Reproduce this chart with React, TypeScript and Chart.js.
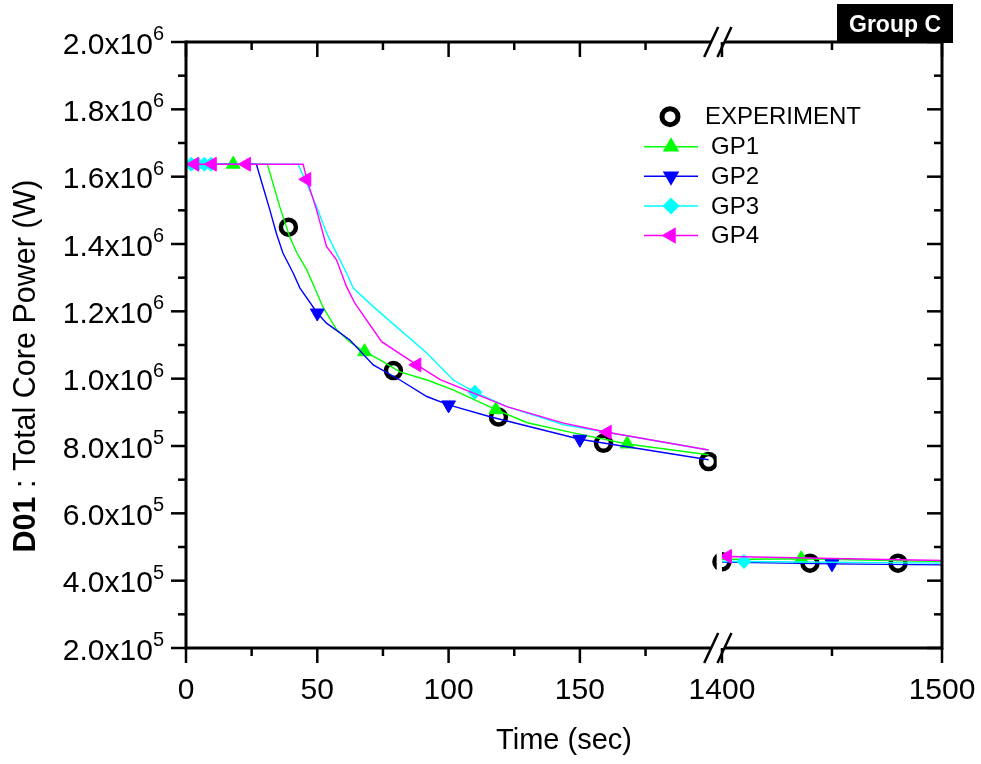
import React, { useEffect, useRef } from 'react';
import { Chart, registerables } from 'chart.js';

Chart.register(...registerables);

// ---------- data (time in s, power in W) ----------
const EXP_T = [39, 79, 119, 159, 199, 1400, 1440, 1480];
const EXP_P = [1.45e6, 1.024e6, 0.886e6, 0.808e6, 0.754e6, 4.56e5, 4.52e5, 4.52e5];

const GP1_T = [0, 18, 31, 35.7, 39.5, 42.2, 46, 49, 52.1, 57.4, 62.4, 68, 73.9, 81.5, 91.8, 101.7, 118, 130, 147.5, 168, 199];
const GP1_P = [1.637e6, 1.637e6, 1.637e6, 1.511e6, 1.421e6, 1.374e6, 1.323e6, 1.27e6, 1.213e6, 1.145e6, 1.109e6, 1.08e6, 1.056e6, 1.02e6, 0.996e6, 0.967e6, 0.908e6, 0.869e6, 0.839e6, 0.806e6, 0.774e6];
const GP1_RT = [1400, 1436, 1500];
const GP1_RP = [4.63e5, 4.65e5, 4.57e5];
const GP1_MARK = [18, 68, 118, 168, 1436];

const GP2_T = [0, 26.8, 29.3, 31.9, 34.4, 36.9, 40.8, 43.4, 50, 53.5, 62.4, 71.3, 81.5, 91.7, 100, 115.8, 150, 199];
const GP2_P = [1.637e6, 1.637e6, 1.571e6, 1.502e6, 1.432e6, 1.373e6, 1.314e6, 1.269e6, 1.195e6, 1.165e6, 1.115e6, 1.041e6, 0.996e6, 0.947e6, 0.922e6, 0.887e6, 0.82e6, 0.759e6];
const GP2_RT = [1400, 1450, 1500];
const GP2_RP = [4.55e5, 4.5e5, 4.47e5];
const GP2_MARK = [50, 100, 150, 1450];

const GP3_T = [0, 2, 4.5, 7, 9.5, 42.7, 45.9, 49.7, 53.5, 57.3, 61.1, 63.7, 71.3, 81.5, 91.7, 101.8, 110, 122.2, 143.8, 199];
const GP3_P = [1.637e6, 1.637e6, 1.637e6, 1.637e6, 1.637e6, 1.637e6, 1.581e6, 1.512e6, 1.433e6, 1.373e6, 1.314e6, 1.269e6, 1.214e6, 1.145e6, 1.076e6, 0.996e6, 0.96e6, 0.917e6, 0.863e6, 0.788e6];
const GP3_RT = [1400, 1410, 1500];
const GP3_RP = [4.57e5, 4.57e5, 4.52e5];
const GP3_MARK = [2, 4.5, 7, 9.5, 110, 1410];

const GP4_T = [0, 3.3, 10, 23, 44.6, 46, 49.7, 53.5, 57.3, 61.1, 64.3, 74.5, 87.9, 96.8, 109.5, 122.2, 143.8, 160.4, 199];
const GP4_P = [1.637e6, 1.637e6, 1.637e6, 1.637e6, 1.637e6, 1.592e6, 1.502e6, 1.393e6, 1.353e6, 1.274e6, 1.224e6, 1.11e6, 1.041e6, 0.997e6, 0.957e6, 0.917e6, 0.868e6, 0.841e6, 0.788e6];
const GP4_RT = [1400, 1402.5, 1500];
const GP4_RP = [4.72e5, 4.72e5, 4.6e5];
const GP4_MARK = [3.3, 10, 23, 46, 87.9, 160.4, 1402.5];

// ---------- ticks ----------
const X_MAJOR = [0, 50, 100, 150, 1400, 1500];
const X_LABELS = ['0', '50', '100', '150', '1400', '1500'];
const X_MINOR = [25, 75, 125, 175, 1450];
const Y_MAJOR = [2e5, 4e5, 6e5, 8e5, 1.0e6, 1.2e6, 1.4e6, 1.6e6, 1.8e6, 2.0e6];
const Y_MINOR = [3e5, 5e5, 7e5, 9e5, 1.1e6, 1.3e6, 1.5e6, 1.7e6, 1.9e6];

// ---------- broken-axis mapping ----------
const LEFT_END = 200;
const RIGHT_START = 1400;
const U_RIGHT0 = 204.1;
const U_RIGHT_SCALE = 0.838;
const U_MAX = U_RIGHT0 + 100 * U_RIGHT_SCALE;
const GAP_CLIP_U = 202.1;
const toU = (t: number) => (t <= 1000 ? t : U_RIGHT0 + (t - RIGHT_START) * U_RIGHT_SCALE);

const FONT = '"Liberation Sans", Arial, Helvetica, sans-serif';

const SERIES = [
  { label: 'GP1', color: '#00ff00', style: 'up', t: GP1_T, p: GP1_P, rt: GP1_RT, rp: GP1_RP, mark: GP1_MARK },
  { label: 'GP2', color: '#0000ff', style: 'down', t: GP2_T, p: GP2_P, rt: GP2_RT, rp: GP2_RP, mark: GP2_MARK },
  { label: 'GP3', color: '#00ffff', style: 'diamond', t: GP3_T, p: GP3_P, rt: GP3_RT, rp: GP3_RP, mark: GP3_MARK },
  { label: 'GP4', color: '#ff00ff', style: 'left', t: GP4_T, p: GP4_P, rt: GP4_RT, rp: GP4_RP, mark: GP4_MARK },
];

function buildLine(t: number[], p: number[], rt: number[], rp: number[]) {
  const pts: any[] = t.map((tt, i) => ({ x: toU(tt), y: p[i], t: tt }));
  pts.push({ x: (toU(LEFT_END) + toU(RIGHT_START)) / 2, y: null, t: NaN });
  rt.forEach((tt, i) => pts.push({ x: toU(tt), y: rp[i], t: tt }));
  return pts;
}

function seg(ctx: CanvasRenderingContext2D, x1: number, y1: number, x2: number, y2: number) {
  ctx.beginPath();
  ctx.moveTo(x1, y1);
  ctx.lineTo(x2, y2);
  ctx.stroke();
}

function drawMarker(ctx: CanvasRenderingContext2D, style: string, x: number, y: number, r: number, color: string) {
  ctx.save();
  ctx.fillStyle = color;
  ctx.beginPath();
  if (style === 'diamond') {
    ctx.moveTo(x, y - r);
    ctx.lineTo(x + r, y);
    ctx.lineTo(x, y + r);
    ctx.lineTo(x - r, y);
  } else {
    const rot = style === 'up' ? 0 : style === 'down' ? Math.PI : -Math.PI / 2;
    for (let k = 0; k < 3; k++) {
      const ang = rot + (k * 2 * Math.PI) / 3;
      const px = x + Math.sin(ang) * r;
      const py = y - Math.cos(ang) * r;
      if (k === 0) ctx.moveTo(px, py);
      else ctx.lineTo(px, py);
    }
  }
  ctx.closePath();
  ctx.fill();
  ctx.restore();
}

const brokenAxisPlugin = {
  id: 'brokenAxis',
  beforeDatasetsDraw(chart: any) {
    const { ctx, chartArea: a, scales } = chart;
    const g0 = scales.x.getPixelForValue(GAP_CLIP_U);
    const g1 = scales.x.getPixelForValue(U_RIGHT0);
    ctx.save();
    ctx.beginPath();
    ctx.rect(a.left - 30, a.top - 30, g0 - a.left + 30, a.bottom - a.top + 60);
    ctx.rect(g1, a.top - 30, a.right - g1 + 30, a.bottom - a.top + 60);
    ctx.clip();
  },
  afterDatasetsDraw(chart: any) {
    chart.ctx.restore();
  },
  afterDraw(chart: any) {
    const { ctx, chartArea: a, scales } = chart;
    const X = (t: number) => scales.x.getPixelForValue(toU(t));
    const Y = (v: number) => scales.y.getPixelForValue(v);
    const L = a.left, R = a.right, T = a.top, B = a.bottom;
    const b1 = X(LEFT_END);
    const b2 = X(RIGHT_START) + 2.5;
    ctx.save();
    ctx.strokeStyle = '#000';
    ctx.fillStyle = '#000';
    ctx.lineCap = 'butt';
    // frame
    ctx.lineWidth = 3;
    seg(ctx, L, T - 1.5, L, B + 1.5);
    seg(ctx, R, T - 1.5, R, B + 1.5);
    seg(ctx, L, B, b1, B);
    seg(ctx, b2, B, R, B);
    seg(ctx, L, T, b1, T);
    seg(ctx, b2, T, R, T);
    // break marks
    ctx.lineWidth = 2.5;
    for (const yy of [T, B]) for (const xc of [b1, b2]) seg(ctx, xc - 7, yy + 15, xc + 7, yy - 15);
    // ticks
    X_MAJOR.forEach((t) => {
      const px = X(t);
      seg(ctx, px, B, px, B + 15);
      seg(ctx, px, T, px, T + 15);
    });
    X_MINOR.forEach((t) => {
      const px = X(t);
      seg(ctx, px, B, px, B + 8);
      seg(ctx, px, T, px, T + 8);
    });
    Y_MAJOR.forEach((v) => {
      const py = Y(v);
      seg(ctx, L - 15, py, L, py);
      seg(ctx, R - 15, py, R, py);
    });
    Y_MINOR.forEach((v) => {
      const py = Y(v);
      seg(ctx, L - 8, py, L, py);
      seg(ctx, R - 8, py, R, py);
    });
    // x tick labels
    ctx.font = `30px ${FONT}`;
    ctx.textAlign = 'center';
    ctx.textBaseline = 'alphabetic';
    X_MAJOR.forEach((t, i) => ctx.fillText(X_LABELS[i], X(t), B + 51));
    // y tick labels with superscript
    Y_MAJOR.forEach((v) => {
      const e = Math.floor(Math.log10(v) + 1e-9);
      const base = (v / Math.pow(10, e)).toFixed(1) + 'x10';
      const sup = String(e);
      const py = Y(v);
      ctx.font = `30px ${FONT}`;
      const wb = ctx.measureText(base).width;
      ctx.font = `20px ${FONT}`;
      const ws = ctx.measureText(sup).width;
      const right = 164;
      ctx.textAlign = 'left';
      ctx.font = `30px ${FONT}`;
      ctx.fillText(base, right - ws - wb, py + 11.5);
      ctx.font = `20px ${FONT}`;
      ctx.fillText(sup, right - ws, py - 2);
    });
    // x title
    ctx.font = `29px ${FONT}`;
    ctx.textAlign = 'center';
    ctx.fillText('Time (sec)', (L + R) / 2, 749);
    // y title (rotated, mixed bold)
    ctx.save();
    ctx.translate(35, 366);
    ctx.rotate(-Math.PI / 2);
    const p1 = 'D01';
    const p2 = ' : Total Core Power (W)';
    ctx.font = `bold 30.5px ${FONT}`;
    const w1 = ctx.measureText(p1).width;
    ctx.font = `30.5px ${FONT}`;
    const w2 = ctx.measureText(p2).width;
    ctx.textAlign = 'left';
    ctx.font = `bold 30.5px ${FONT}`;
    ctx.fillText(p1, -(w1 + w2) / 2, 0);
    ctx.font = `30.5px ${FONT}`;
    ctx.fillText(p2, -(w1 + w2) / 2 + w1, 0);
    ctx.restore();
    // legend
    ctx.textAlign = 'left';
    ctx.textBaseline = 'middle';
    ctx.font = `24px ${FONT}`;
    ctx.lineWidth = 5;
    ctx.beginPath();
    ctx.arc(670, 116.7, 8, 0, Math.PI * 2);
    ctx.stroke();
    ctx.fillText('EXPERIMENT', 705, 117);
    const rows = [146.7, 176.3, 206, 235.5];
    SERIES.forEach((s, i) => {
      const y = rows[i];
      ctx.strokeStyle = s.color;
      ctx.lineWidth = 1.5;
      seg(ctx, 644, y, 698, y);
      drawMarker(ctx, s.style, 671, y, s.style === 'diamond' ? 8.5 : 9.5, s.color);
      ctx.fillStyle = '#000';
      ctx.fillText(s.label, 711, y + 1);
    });
    // group label
    ctx.fillStyle = '#000';
    ctx.fillRect(837, 4, 116, 39);
    ctx.fillStyle = '#fff';
    ctx.font = `bold 23px ${FONT}`;
    ctx.textAlign = 'center';
    ctx.textBaseline = 'alphabetic';
    ctx.fillText('Group C', 895, 32);
    ctx.restore();
  },
};

export default function App() {
  const ref = useRef<HTMLCanvasElement>(null);
  useEffect(() => {
    const rotFor = (style: string) => (style === 'down' ? 180 : style === 'left' ? 270 : 0);
    const lineSets = SERIES.map((s, i) => ({
      label: s.label,
      data: buildLine(s.t, s.p, s.rt, s.rp),
      borderColor: s.color,
      backgroundColor: s.color,
      borderWidth: 1.4,
      tension: 0,
      spanGaps: false,
      pointStyle: s.style === 'diamond' ? 'rectRot' : 'triangle',
      rotation: rotFor(s.style),
      pointRotation: rotFor(s.style),
      pointRadius: (c: any) => (c.raw && s.mark.includes(c.raw.t) ? (s.style === 'diamond' ? 7 : 8) : 0),
      pointBorderWidth: 1,
      pointBorderColor: s.color,
      pointBackgroundColor: s.color,
      order: 4 - i,
    }));
    const expSet = {
      label: 'EXPERIMENT',
      data: EXP_T.map((t, i) => ({ x: toU(t), y: EXP_P[i], t })),
      showLine: false,
      borderColor: '#000',
      backgroundColor: 'rgba(0,0,0,0)',
      pointStyle: 'circle',
      pointRadius: 7.5,
      pointBorderWidth: 4.5,
      pointBorderColor: '#000',
      pointBackgroundColor: 'rgba(0,0,0,0)',
      order: 5,
    };
    const chart = new Chart(ref.current as HTMLCanvasElement, {
      type: 'line',
      data: { datasets: [expSet, ...lineSets] as any },
      options: {
        animation: false,
        responsive: false,
        devicePixelRatio: 1,
        events: [],
        layout: { padding: { left: 186, right: 39, top: 42, bottom: 116 } },
        scales: {
          x: { type: 'linear', min: 0, max: U_MAX, display: false },
          y: { type: 'linear', min: 2e5, max: 2e6, display: false },
        },
        plugins: { legend: { display: false }, tooltip: { enabled: false } },
      } as any,
      plugins: [brokenAxisPlugin],
    });
    return () => chart.destroy();
  }, []);
  return (
    <div style={{ position: 'fixed', left: 0, top: 0, width: 981, height: 764, background: '#fff' }}>
      <canvas ref={ref} width={981} height={764} style={{ display: 'block', width: 981, height: 764 }} />
    </div>
  );
}
